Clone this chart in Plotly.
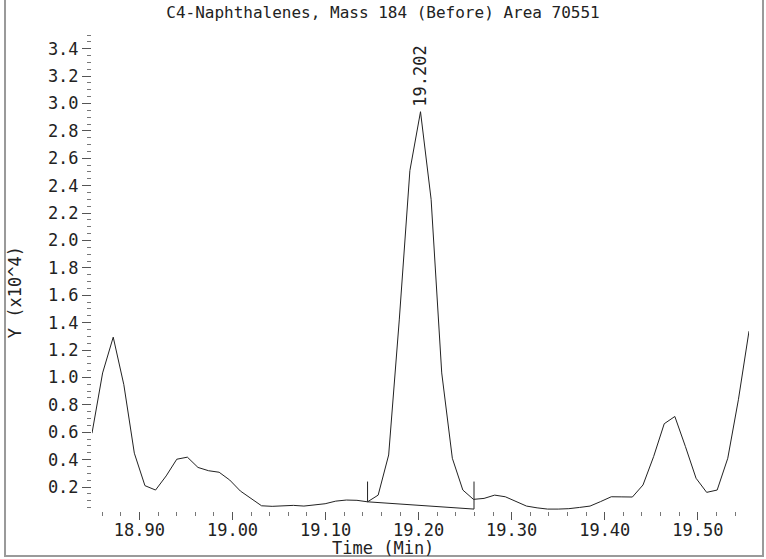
#!/usr/bin/env python3
# -*- coding: utf-8 -*-
import plotly.graph_objects as go

# chromatogram: retention time (min) vs abundance (x10^4)
time_min = [
    18.8490, 18.8604, 18.8718, 18.8832, 18.8945, 18.9059, 18.9173, 18.9287,
    18.9401, 18.9515, 18.9629, 18.9743, 18.9856, 18.9970, 19.0084, 19.0198,
    19.0312, 19.0426, 19.0540, 19.0654, 19.0767, 19.0881, 19.0995, 19.1109,
    19.1223, 19.1337, 19.1451, 19.1565, 19.1678, 19.1792, 19.1906, 19.2020,
    19.2134, 19.2248, 19.2362, 19.2475, 19.2589, 19.2703, 19.2817, 19.2931,
    19.3045, 19.3159, 19.3273, 19.3386, 19.3500, 19.3614, 19.3728, 19.3842,
    19.3956, 19.4070, 19.4184, 19.4297, 19.4411, 19.4525, 19.4639, 19.4753,
    19.4867, 19.4981, 19.5095, 19.5208, 19.5322, 19.5436, 19.5550,
]
abundance = [
    0.593, 1.033, 1.294, 0.947, 0.447, 0.210, 0.178, 0.281,
    0.403, 0.418, 0.343, 0.319, 0.308, 0.251, 0.171, 0.117,
    0.063, 0.059, 0.063, 0.066, 0.061, 0.070, 0.078, 0.097,
    0.105, 0.103, 0.092, 0.141, 0.434, 1.420, 2.510, 2.940,
    2.300, 1.033, 0.410, 0.178, 0.110, 0.117, 0.141, 0.129,
    0.092, 0.061, 0.048, 0.039, 0.039, 0.042, 0.051, 0.061,
    0.094, 0.129, 0.128, 0.127, 0.215, 0.422, 0.662, 0.715,
    0.495, 0.264, 0.161, 0.178, 0.410, 0.837, 1.338,
]

# integration baseline and its start/end markers
baseline_t = [19.1451, 19.2595]
baseline_y = [0.092, 0.039]
marker_top = 0.24

peak_time = 19.202
peak_height = 2.94
title_text = "C4-Naphthalenes, Mass 184 (Before) Area 70551"

FONT = "DejaVu Sans Mono"
INK = "#222222"

fig = go.Figure()
fig.add_trace(go.Scatter(x=time_min, y=abundance, mode="lines",
                         line=dict(color=INK, width=1), hoverinfo="x+y"))
fig.add_trace(go.Scatter(x=baseline_t, y=baseline_y, mode="lines",
                         line=dict(color=INK, width=1), hoverinfo="skip"))
for t, b in zip(baseline_t, baseline_y):
    fig.add_trace(go.Scatter(x=[t, t], y=[b, marker_top], mode="lines",
                             line=dict(color=INK, width=1), hoverinfo="skip"))

fig.add_annotation(x=peak_time, y=peak_height, text=f"{peak_time:.3f}",
                   showarrow=False, textangle=-90, yanchor="bottom",
                   yshift=3, font=dict(family=FONT, size=17, color=INK))
# axis titles placed like the original (centred on the whole window)
fig.add_annotation(xref="paper", yref="paper", x=0.443, y=-0.078,
                   xanchor="center", yanchor="middle",
                   text="Time (Min)", showarrow=False,
                   font=dict(family=FONT, size=17, color=INK))
fig.add_annotation(xref="paper", yref="paper", x=-0.117, y=0.46,
                   xanchor="center", yanchor="middle",
                   text="Y (x10^4)", showarrow=False, textangle=-90,
                   font=dict(family=FONT, size=17, color=INK))

# grey window frame
fig.add_shape(type="rect", xref="paper", yref="paper",
              x0=-0.1324, x1=1.0213, y0=-0.0945, y1=1.08,
              line=dict(color="#9a9a9a", width=2))

fig.update_xaxes(range=[18.849, 19.555], showgrid=False, zeroline=False,
                 showline=False, ticks="outside", ticklen=8, tickcolor="#555",
                 tick0=18.9, dtick=0.1, tickformat=".2f",
                 ticklabelstandoff=-4,
                 tickfont=dict(family=FONT, size=17, color=INK),
                 minor=dict(ticks="outside", ticklen=4, dtick=0.02,
                            tick0=18.9, tickcolor="#777", showgrid=False))
fig.update_yaxes(range=[0.025, 3.5], showgrid=False, zeroline=False,
                 showline=False, ticks="outside", ticklen=9, tickcolor="#555",
                 tick0=0, dtick=0.2, tickformat=".1f",
                 tickfont=dict(family=FONT, size=17, color=INK),
                 minor=dict(ticks="outside", ticklen=4, dtick=0.05,
                            tick0=0, tickcolor="#777", showgrid=False))

fig.update_layout(
    width=766, height=559,
    margin=dict(l=92, r=17, t=35, b=48),
    paper_bgcolor="white", plot_bgcolor="white",
    showlegend=False,
    title=dict(text=title_text, xref="container", x=0.5, xanchor="center",
               y=0.978, yanchor="middle",
               font=dict(family=FONT, size=16, color=INK)),
)

# page body has a default 8px margin; drop it so the figure fills the window
fig.write_html("out.html", config={"displayModeBar": False},
               post_script="document.body.style.margin='0';")
